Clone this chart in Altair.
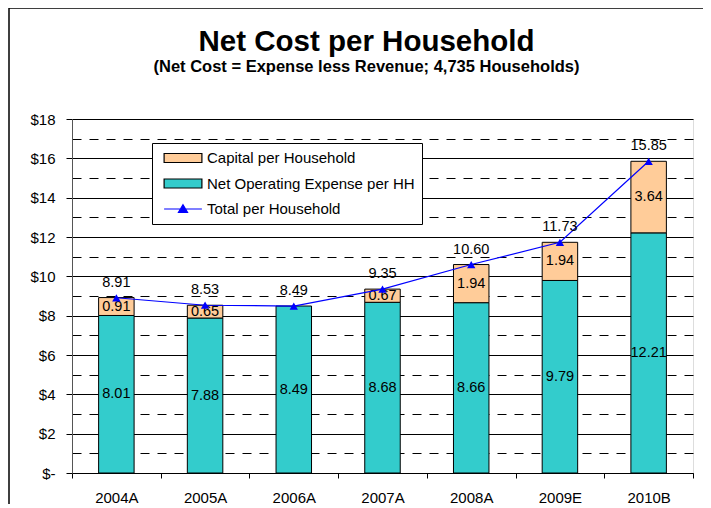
import altair as alt
import pandas as pd

categories = ["2004A", "2005A", "2006A", "2007A", "2008A", "2009E", "2010B"]
operating = [8.01, 7.88, 8.49, 8.68, 8.66, 9.79, 12.21]
capital = [0.91, 0.65, 0.0, 0.67, 1.94, 1.94, 3.64]
total = [8.91, 8.53, 8.49, 9.35, 10.60, 11.73, 15.85]
series_names = ["Capital per Household", "Net Operating Expense per HH", "Total per Household"]
series_fills = ["#FFCC99", "#33CCCC", "#0000FF"]
series_strokes = ["#000000", "#000000", "#0000FF"]
rect_path = "M-2.7,-0.64H2.7V0.64H-2.7Z"
line_tri_path = "M-2.7,0H2.7M0,-0.6L0.65,0.5L-0.65,0.5Z"
series_shapes = [rect_path, rect_path, line_tri_path]
y_ticks = list(range(0, 19))

FONT = "Liberation Sans"

rows = []
for c, o, k in zip(categories, operating, capital):
    rows.append(dict(category=c, series=series_names[1], start=0.0, end=o, value=o))
    if k > 0:
        rows.append(dict(category=c, series=series_names[0], start=o, end=o + k, value=k))
bars_df = pd.DataFrame(rows)
bars_df["mid"] = (bars_df["start"] + bars_df["end"]) / 2
tot_df = pd.DataFrame(dict(category=categories, total=total, series=series_names[2]))

y_scale = alt.Scale(domain=[0, 18], nice=False, zero=True)
x_scale = alt.Scale(paddingInner=0, paddingOuter=0)

odd = "datum.value % 2 == 1"
y_axis = alt.Axis(
    title=None,
    values=y_ticks,
    labelExpr="datum.value % 2 == 1 ? '' : (datum.value == 0 ? '$-\u00a0' : '$' + datum.value)",
    labelFont=FONT, labelFontSize=15, labelColor="black", labelPadding=11,
    grid=True, gridColor="black", gridWidth=1,
    gridDash=alt.condition(odd, alt.value([9, 8]), alt.value([])),
    tickColor=alt.condition(odd, alt.value("transparent"), alt.value("black")),
    tickSize=6, domainColor="#555555",
)
x_axis = alt.Axis(
    title=None, tickBand="extent", labelAngle=0,
    labelFont=FONT, labelFontSize=15, labelColor="black", labelPadding=12,
    tickSize=5, tickColor="black", domainColor="black", grid=False,
)

X = alt.X("category:N", sort=categories, scale=x_scale, axis=x_axis)


def Y(field):
    return alt.Y(field, scale=y_scale, axis=y_axis)


legend = alt.Legend(
    title=None, orient="none", legendX=80, legendY=24,
    padding=7, symbolSize=196, rowPadding=9.5, symbolOffset=16, labelOffset=16,
    symbolOpacity=1, symbolStrokeWidth=1.2,
    fillColor="white", strokeColor="black",
    labelFont=FONT, labelFontSize=15, labelColor="black", labelLimit=400,
)

frame = alt.Chart(alt.Data(values=[{"a": 1}])).mark_rect(
    filled=False, stroke="black", strokeWidth=1.5
).encode(
    x=alt.value(-63), x2=alt.value(660), y=alt.value(-111), y2=alt.value(420)
)

bars = alt.Chart(bars_df).mark_bar(
    strokeWidth=1, width=alt.RelativeBandSize(0.4)
).encode(
    x=X,
    y=Y("start:Q"),
    y2="end:Q",
    fill=alt.Fill("series:N", scale=alt.Scale(domain=series_names, range=series_fills), legend=legend),
    stroke=alt.Stroke("series:N", scale=alt.Scale(domain=series_names, range=series_strokes), legend=legend),
)

legend_shapes = alt.Chart(tot_df).mark_point(size=0).encode(
    x=X,
    y=Y("total:Q"),
    shape=alt.Shape("series:N", scale=alt.Scale(domain=series_names, range=series_shapes), legend=legend),
)

bar_labels = alt.Chart(bars_df).mark_text(
    font=FONT, fontSize=14.5, color="black", baseline="middle"
).encode(
    x=X,
    y=Y("mid:Q"),
    text=alt.Text("value:Q", format=".2f"),
)

line = alt.Chart(tot_df).mark_line(color="#0000FF", strokeWidth=1.2).encode(
    x=X,
    y=Y("total:Q"),
)

points = alt.Chart(tot_df).mark_point(
    shape="triangle-up", filled=True, color="#0000FF", size=70, opacity=1
).encode(
    x=X,
    y=Y("total:Q"),
)

tot_labels = alt.Chart(tot_df).mark_text(
    font=FONT, fontSize=14.5, color="black", baseline="middle", dy=-15
).encode(
    x=X,
    y=Y("total:Q"),
    text=alt.Text("total:Q", format=".2f"),
)

chart = alt.layer(frame, bars, legend_shapes, bar_labels, line, points, tot_labels).properties(
    width=621, height=354,
    autosize=alt.AutoSizeParams(type="none"),
    padding={"left": 64, "top": 111, "right": 10, "bottom": 31},
    title=alt.Title(
        text="Net Cost per Household",
        subtitle="(Net Cost = Expense less Revenue; 4,735 Households)",
        font=FONT, fontSize=29.5, fontWeight="bold", color="black",
        subtitleFont=FONT, subtitleFontSize=16.5, subtitleFontWeight="bold", subtitleColor="black",
        anchor="middle", dx=-16, offset=-69, subtitlePadding=1,
    ),
).configure_view(
    stroke="#888888", strokeWidth=1
).configure(background="white")

chart.save("out.html", embed_options={"renderer": "svg", "actions": False})
